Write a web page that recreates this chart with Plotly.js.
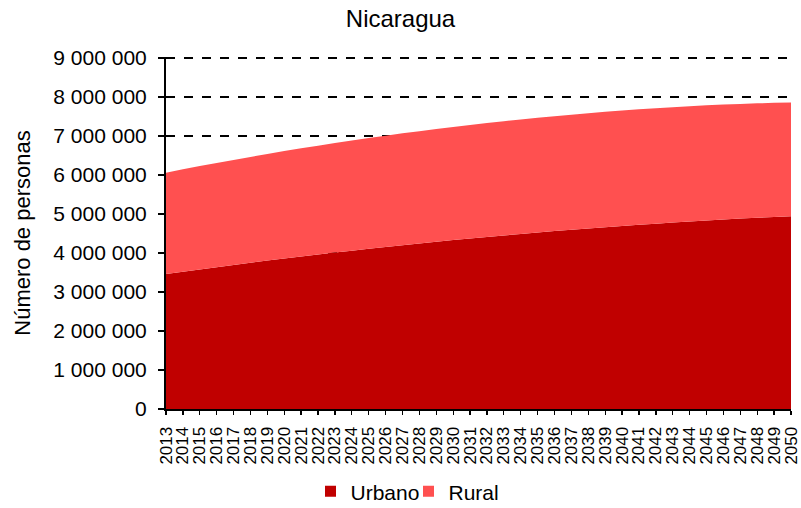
<!DOCTYPE html>
<html>
<head>
<meta charset="utf-8">
<script src="https://cdn.plot.ly/plotly-3.0.1.min.js"></script>
<style>html,body{margin:0;padding:0;background:#fff;}#chart{width:801px;height:508px;}</style>
</head>
<body>
<div id="chart"></div>
<script>
var years = [2013,2014,2015,2016,2017,2018,2019,2020,2021,2022,2023,2024,2025,2026,2027,2028,2029,2030,2031,2032,2033,2034,2035,2036,2037,2038,2039,2040,2041,2042,2043,2044,2045,2046,2047,2048,2049,2050];
var urbano = [3460000,3520000,3579000,3637000,3694000,3750000,3805000,3858000,3910000,3961000,4011000,4060000,4108000,4155000,4201000,4246000,4289000,4331000,4372000,4412000,4451000,4489000,4526000,4562000,4597000,4630000,4662000,4693000,4723000,4752000,4780000,4807000,4833000,4858000,4882000,4904000,4925000,4945000];
var rural = [2600000,2625000,2649000,2672000,2694000,2715000,2735000,2755000,2774000,2792000,2809000,2825000,2840000,2854000,2867000,2879000,2891000,2902000,2912000,2921000,2929000,2936000,2942000,2947000,2951000,2955000,2958000,2960000,2961000,2961000,2960000,2958000,2955000,2947000,2940000,2933000,2925000,2915000];
var yTicks = [0,1000000,2000000,3000000,4000000,5000000,6000000,7000000,8000000,9000000];
var seriesNames = ['Urbano', 'Rural'];
var seriesColors = ['#C00000', '#FF5050'];

var font = 'Liberation Sans, Arial, sans-serif';
var traces = [
  {x: years, y: urbano, name: seriesNames[0], type: 'scatter', mode: 'none', stackgroup: 'one',
   fillcolor: seriesColors[0], showlegend: false},
  {x: years, y: rural, name: seriesNames[1], type: 'scatter', mode: 'none', stackgroup: 'one',
   fillcolor: seriesColors[1], showlegend: false}
];
seriesNames.forEach(function (n, i) {
  traces.push({x: [null], y: [null], name: n, type: 'scatter', mode: 'markers',
    marker: {symbol: 'square', size: 11, color: seriesColors[i]}, showlegend: true});
});
var layout = {
  width: 801, height: 508,
  margin: {l: 166, r: 10, t: 57, b: 99, autoexpand: false},
  paper_bgcolor: '#fff', plot_bgcolor: '#fff',
  separators: ', ',
  font: {family: font, color: '#000', size: 20},
  title: {text: 'Nicaragua', font: {family: font, size: 24, color: '#000'}, x: 0.5, xanchor: 'center', y: 0.964, yanchor: 'middle'},
  showlegend: true,
  legend: {orientation: 'h', x: 0.388, xanchor: 'center', y: -0.235, yanchor: 'middle',
           font: {family: font, size: 21, color: '#000'}, itemwidth: 30, entrywidth: 53, traceorder: 'normal'},
  xaxis: {range: [2013, 2050], tickmode: 'array', tickvals: years, ticktext: years.map(String),
          tickangle: -90, tickfont: {family: font, size: 17, color: '#000'}, automargin: false,
          ticks: 'outside', ticklen: 4, tickcolor: '#000', tickwidth: 1.3, ticklabelstandoff: 5,
          showline: true, linecolor: '#000', linewidth: 2, showgrid: false, zeroline: false, fixedrange: true},
  yaxis: {range: [0, 9026000], tickmode: 'array', tickvals: yTicks, tickformat: ',d', automargin: false,
          tickfont: {family: font, size: 21, color: '#000'},
          ticks: 'outside', ticklen: 6, tickcolor: '#000', tickwidth: 1.3, ticklabelstandoff: 7,
          showline: true, linecolor: '#000', linewidth: 2,
          showgrid: true, gridcolor: '#000', gridwidth: 1.3, griddash: 'dash', zeroline: false,
          title: {text: 'Número de personas', font: {family: font, size: 22, color: '#000'}, standoff: 17}}
};
Plotly.newPlot('chart', traces, layout, {displayModeBar: false, staticPlot: true});
</script>
</body>
</html>
